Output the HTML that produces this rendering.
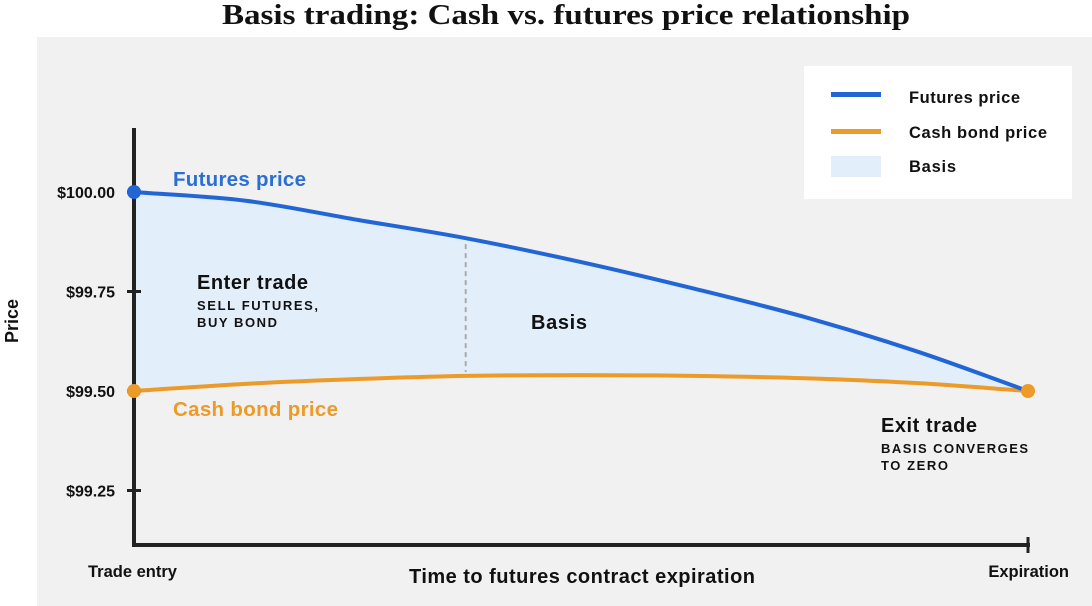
<!DOCTYPE html>
<html><head><meta charset="utf-8"><style>
body{margin:0;width:1092px;height:606px;background:#fff;overflow:hidden;font-family:"Liberation Sans",Arial,sans-serif}
svg{display:block}
</style></head><body>
<svg id="chart" width="1092" height="606">
<text x="566" y="24" text-anchor="middle" font-family="Liberation Serif,serif" font-weight="bold" font-size="29" textLength="688" lengthAdjust="spacingAndGlyphs" fill="#111">Basis trading: Cash vs. futures price relationship</text>
<rect x="37" y="37" width="1055" height="569" fill="#f1f1f1"/>
<g id="marks"></g>
<g>
<rect x="804" y="66" width="268" height="133" fill="#fff"/>
<rect x="831" y="92" width="50" height="5" fill="#2266d6"/>
<text x="909" y="103" font-size="16.5" font-weight="bold" fill="#111" textLength="111">Futures price</text>
<rect x="831" y="129" width="50" height="5" fill="#ec9a28"/>
<text x="909" y="138" font-size="16.5" font-weight="bold" fill="#111" textLength="138">Cash bond price</text>
<rect x="831" y="156" width="50" height="21" fill="#e3eefb"/>
<text x="909" y="172" font-size="16.5" font-weight="bold" fill="#111" textLength="47">Basis</text>
</g>
<text x="173" y="186" font-size="20.5" font-weight="bold" fill="#2a6fd4" textLength="133">Futures price</text>
<text x="173" y="416" font-size="20.5" font-weight="bold" fill="#ec9a28" textLength="165">Cash bond price</text>
<text x="197" y="289" font-size="20" font-weight="bold" fill="#111" textLength="111">Enter trade</text>
<text x="197" y="310" font-size="13" font-weight="bold" fill="#111" textLength="121">SELL FUTURES,</text>
<text x="197" y="327" font-size="13" font-weight="bold" fill="#111" textLength="80">BUY BOND</text>
<text x="531" y="329" font-size="20" font-weight="bold" fill="#111" textLength="56">Basis</text>
<text x="881" y="432" font-size="20" font-weight="bold" fill="#111" textLength="96">Exit trade</text>
<text x="881" y="453" font-size="13" font-weight="bold" fill="#111" textLength="147">BASIS CONVERGES</text>
<text x="881" y="470" font-size="13" font-weight="bold" fill="#111" textLength="67">TO ZERO</text>
<text x="18" y="321" font-size="18" font-weight="bold" fill="#111" transform="rotate(-90 18 321)" text-anchor="middle">Price</text>
<text x="409" y="583" font-size="20" font-weight="bold" fill="#111" textLength="346">Time to futures contract expiration</text>
</svg>
<script>
const tValues=[0,0.125,0.25,0.371,0.5,0.625,0.75,0.875,1];
const futuresPrices=[100.00,99.978,99.93,99.884,99.824,99.758,99.686,99.600,99.50];
const cashPrices=[99.50,99.518,99.530,99.538,99.540,99.538,99.532,99.520,99.50];
const yTicks=[100.00,99.75,99.50,99.25];
const yTickLabels=["$100.00","$99.75","$99.50","$99.25"];
const xTickLabels=["Trade entry","Expiration"];
const markerT=0.371;
const NS="http://www.w3.org/2000/svg";
const X=t=>134+t*894;
const Y=p=>192+(100-p)*398;
const g=document.getElementById('marks');
function mk(tag,attrs){const e=document.createElementNS(NS,tag);for(const k in attrs)e.setAttribute(k,attrs[k]);g.appendChild(e);return e;}
function path(ts,ps){const pts=ts.map((t,i)=>[X(t),Y(ps[i])]);let d=`M${pts[0][0]},${pts[0][1]}`;
for(let i=0;i<pts.length-1;i++){const p0=pts[i-1]||[2*pts[i][0]-pts[i+1][0],2*pts[i][1]-pts[i+1][1]],p1=pts[i],p2=pts[i+1],p3=pts[i+2]||[2*p2[0]-p1[0],2*p2[1]-p1[1]];
d+=` C${p1[0]+(p2[0]-p0[0])/6},${p1[1]+(p2[1]-p0[1])/6} ${p2[0]-(p3[0]-p1[0])/6},${p2[1]-(p3[1]-p1[1])/6} ${p2[0]},${p2[1]}`;}return {d,pts};}
const f=path(tValues,futuresPrices),c=path(tValues.slice().reverse(),cashPrices.slice().reverse());
let area=mk('path',{d:f.d+' L'+c.d.slice(1)+'Z',fill:'#e3eefb'});


const fm=futuresPrices[3],cm=cashPrices[3];
let dl=mk('line',{x1:X(markerT),x2:X(markerT),y1:Y(fm)+6,y2:Y(cm)-4,stroke:'#aaa','stroke-width':2,'stroke-dasharray':'5,4'});


let cl=mk('path',{d:c.d,fill:'none',stroke:'#ec9a28','stroke-width':4});


let fl=mk('path',{d:f.d,fill:'none',stroke:'#2266d6','stroke-width':4});


let ya=mk('line',{x1:134,x2:134,y1:128,y2:547,stroke:'#222','stroke-width':4});


let xa=mk('line',{x1:132,x2:1030,y1:545,y2:545,stroke:'#222','stroke-width':4});


let xt=mk('line',{x1:1028,x2:1028,y1:537,y2:553,stroke:'#222','stroke-width':3});


yTicks.forEach((v,i)=>{
 const tk=mk('line',{x1:127,x2:141,y1:Y(v),y2:Y(v),stroke:'#222','stroke-width':3});
 
 
 const tx=mk('text',{x:115,y:Y(v)+6,'text-anchor':'end','font-size':16,'font-weight':'bold',fill:'#111'});
 tx.textContent=yTickLabels[i];
 
 
});
[[0,'start',88],[1,'end',1069]].forEach(([t,a,x],i)=>{
 const tx=mk('text',{x:x,y:577,'text-anchor':a,'font-size':16.5,'font-weight':'bold',fill:'#111'});
 tx.textContent=xTickLabels[i];
 
 
});
[[0,futuresPrices[0],'#2266d6'],[0,cashPrices[0],'#ec9a28'],[1,cashPrices[cashPrices.length-1],'#ec9a28']].forEach(([t,p,col])=>{
 const d=mk('circle',{cx:X(t),cy:Y(p),r:7,fill:col});
 
 
});
</script>
</body></html>
